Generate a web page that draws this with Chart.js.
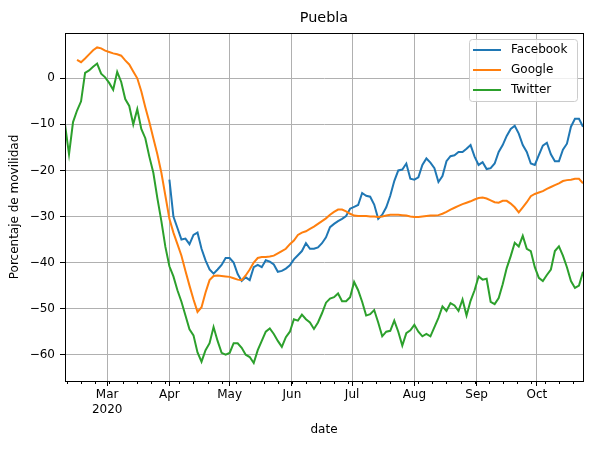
<!DOCTYPE html>
<html lang="es">

<head>
  <meta charset="UTF-8" />
  <title>Puebla - Porcentaje de movilidad</title>
  <script src="https://cdn.jsdelivr.net/npm/chart.js"></script>
  <style>
    body {
      margin: 0;
      background: #fff;
    }
    .chart-container {
      width: 600px;
      height: 450px;
    }
  </style>
</head>

<body>
  <div class="chart-container">
    <canvas id="chartMovilidad" width="600" height="450"></canvas>
  </div>

  <script>
    // dia 0 = 2020-02-09, un valor cada 2 dias
    const dias = Array.from({ length: 130 }, (_, i) => i * 2);

    const facebook = [
      null, null, null, null, null, null, null, null, null, null,
      null, null, null, null, null, null, null, null, null, null,
      null, null, null, null, null, null,
      -22, -30, -32.5, -35, -34.8, -36, -34, -33.5, -37, -39.5,
      -41.5, -42.4, -41.5, -40.5, -39, -39, -40, -42.5, -44, -43.2,
      -43.8, -41, -40.5, -41, -39.5, -39.8, -40.4, -42, -41.8, -41.3,
      -40.6, -39.3, -38.4, -37.5, -35.8, -37, -37, -36.7, -35.8, -34.5,
      -32.3, -31.6, -31, -30.5, -29.9, -28.3, -27.9, -27.5, -24.9, -25.5,
      -25.7, -27.4, -30.5, -29.6, -28, -25.5, -22.3, -20, -19.8, -18.5,
      -21.8, -22, -21.5, -18.8, -17.4, -18.3, -19.5, -22.5, -21.2, -18,
      -16.9, -16.7, -16, -16, -15.3, -14.5, -17, -18.8, -18.2, -19.7,
      -19.5, -18.5, -16, -14.5, -12.5, -11, -10.3, -12, -14.5, -16,
      -18.5, -18.8, -16.7, -14.6, -14, -16.5, -18, -18, -15.5, -14.2,
      -10.5, -8.8, -8.8, -10.5
    ];

    const google = [
      null, null, null,
      4.0, 3.5, 4.3, 5.2, 6.1, 6.7, 6.5, 6.0, 5.7, 5.4,
      5.2, 4.9, 3.9, 3.0, 1.5, 0, -2.8, -6.3, -9.5, -13,
      -16.5, -20.5, -25.5, -30.5, -33.5, -36, -38.5, -41.8, -45, -48,
      -50.7, -49.7, -46.5, -43.8, -42.9, -42.8, -42.9, -43, -43.1, -43.4,
      -43.7, -43.8, -42.8, -41.5, -40, -39, -38.8, -38.8, -38.7, -38.5,
      -38, -37.5, -37, -36, -35.2, -34, -33.5, -33.2, -32.7, -32.2,
      -31.6, -31, -30.4, -29.6, -29, -28.5, -28.5, -28.9, -29.4, -29.8,
      -29.9, -29.9, -29.9, -30, -30, -30.1, -30, -29.8, -29.6, -29.6,
      -29.6, -29.7, -29.8, -30, -30.1, -30.1, -30, -29.9, -29.8, -29.8,
      -29.7, -29.4, -29, -28.5, -28.1, -27.7, -27.3, -27, -26.7, -26.3,
      -26, -25.9, -26.1, -26.5, -26.9, -27, -26.6, -26.6, -27.2, -28,
      -29.1, -28, -26.9, -25.6, -25.1, -24.8, -24.5, -24, -23.6, -23.2,
      -22.8, -22.3, -22.1, -22, -21.8, -21.8, -22.8
    ];

    const twitter = [
      -10, -16.5, -9.5, -7, -5, 1.2, 1.7, 2.5, 3.2, 1,
      0.2, -1, -2.5, 1.4, -0.8, -4.5, -6, -10, -6.7, -11,
      -13, -17, -20.5, -26, -31, -36.6, -40.8, -43, -46, -48.5,
      -51.5, -54.5, -55.8, -59.5, -61.5, -59, -57.5, -54, -57, -59.6,
      -60, -59.6, -57.5, -57.5, -58.5, -60, -60.5, -61.8, -59, -57,
      -55, -54.3, -55.5, -57, -58.3, -56.2, -55, -52.3, -52.6, -51.3,
      -52.3, -53, -54.4, -53, -51, -48.7, -47.8, -47.5, -46.7, -48.4,
      -48.4, -47.5, -44.2, -46, -48.5, -51.5, -51.2, -50.3, -53, -56,
      -55, -54.8, -52.6, -55, -58, -55.3, -54.7, -53.5, -55, -56,
      -55.5, -56, -54, -52, -49.5, -50.5, -48.8, -49.3, -50.5, -48,
      -51.5, -48.3, -46, -43, -43.7, -43.5, -48.5, -49, -47.7, -44.7,
      -41.2, -38.6, -35.7, -36.5, -34.2, -37, -37.5, -41, -43.3, -44,
      -42.7, -41.5, -37.5, -36.5, -38.5, -41, -44, -45.5, -45, -42
    ];

    // inicio de cada mes (dias desde 2020-02-09)
    const diasMes = [21, 52, 82, 113, 143, 174, 205, 235];
    const etiquetasMes = [['Mar', '2020'], 'Apr', 'May', 'Jun', 'Jul', 'Aug', 'Sep', 'Oct'];
    const ticksY = [-60, -50, -40, -30, -20, -10, 0];

    Chart.defaults.font.family = 'DejaVu Sans';
    Chart.defaults.font.size = 12;
    Chart.defaults.color = '#000';

    // marco, titulo, ticks menores semanales y leyenda
    const marco = {
      id: 'marco',
      afterDraw(chart) {
        const { ctx, chartArea: a, scales: { x } } = chart;
        ctx.save();

        // ticks menores (lunes)
        ctx.strokeStyle = '#000';
        ctx.lineWidth = 1;
        ctx.beginPath();
        for (let d = 1; d <= 258; d += 7) {
          const px = Math.round(x.getPixelForValue(d)) + 0.5;
          ctx.moveTo(px, a.bottom);
          ctx.lineTo(px, a.bottom + 3);
        }
        ctx.stroke();

        ctx.strokeRect(Math.round(a.left) + 0.5, Math.round(a.top) + 0.5,
          Math.round(a.right - a.left), Math.round(a.bottom - a.top));

        ctx.fillStyle = '#000';
        ctx.font = '14.4px "DejaVu Sans"';
        ctx.textAlign = 'center';
        ctx.textBaseline = 'middle';
        ctx.fillText('Puebla', (a.left + a.right) / 2, 18);

        // leyenda
        const lx = a.right - 6 - 108, ly = a.top + 6;
        ctx.beginPath();
        ctx.roundRect(lx + 0.5, ly + 0.5, 108, 62, 3);
        ctx.fillStyle = 'rgba(255,255,255,0.8)';
        ctx.fill();
        ctx.strokeStyle = '#cccccc';
        ctx.stroke();
        ctx.font = '12px "DejaVu Sans"';
        ctx.textAlign = 'left';
        chart.data.datasets.forEach((ds, i) => {
          const y = ly + 11 + i * 20;
          ctx.strokeStyle = ds.borderColor;
          ctx.lineWidth = 2;
          ctx.beginPath();
          ctx.moveTo(lx + 4, y);
          ctx.lineTo(lx + 32, y);
          ctx.stroke();
          ctx.fillStyle = '#000';
          ctx.fillText(ds.label, lx + 42, y);
        });
        ctx.restore();
      }
    };

    const ctx = document.getElementById('chartMovilidad').getContext('2d');
    new Chart(ctx, {
      type: 'line',
      data: {
        labels: dias,
        datasets: [
          { label: 'Facebook', data: facebook, borderColor: '#1f77b4', order: 3 },
          { label: 'Google', data: google, borderColor: '#ff7f0e', order: 2 },
          { label: 'Twitter', data: twitter, borderColor: '#2ca02c', order: 1 }
        ]
      },
      options: {
        responsive: false,
        animation: false,
        devicePixelRatio: 1,
        elements: {
          point: { radius: 0 },
          line: { borderWidth: 2, tension: 0, fill: false }
        },
        layout: { padding: { top: 33, right: 17, bottom: 0, left: 0 } },
        plugins: {
          legend: { display: false },
          tooltip: { enabled: false },
          title: { display: false }
        },
        scales: {
          x: {
            type: 'linear',
            min: 0,
            max: 258,
            afterBuildTicks: s => { s.ticks = diasMes.map(v => ({ value: v })); },
            afterFit: s => { s.height = 69; },
            ticks: {
              autoSkip: false,
              maxRotation: 0,
              padding: 2,
              callback: (v, i) => etiquetasMes[i]
            },
            grid: { color: '#b0b0b0', tickColor: '#000', tickLength: 5 },
            border: { color: '#000' },
            title: { display: true, text: 'date', padding: { top: 0, bottom: 13 } }
          },
          y: {
            min: -65.7,
            max: 9.83,
            afterBuildTicks: s => { s.ticks = ticksY.map(v => ({ value: v })); },
            afterFit: s => { s.width = 65; },
            ticks: {
              padding: 5,
              callback: v => v < 0 ? '\u2212' + Math.abs(v) : String(v)
            },
            grid: { color: '#b0b0b0', tickColor: '#000', tickLength: 5 },
            border: { color: '#000' },
            title: { display: true, text: 'Porcentaje de movilidad', padding: { top: 8, bottom: 0 } }
          }
        }
      },
      plugins: [marco]
    });
  </script>
</body>

</html>
